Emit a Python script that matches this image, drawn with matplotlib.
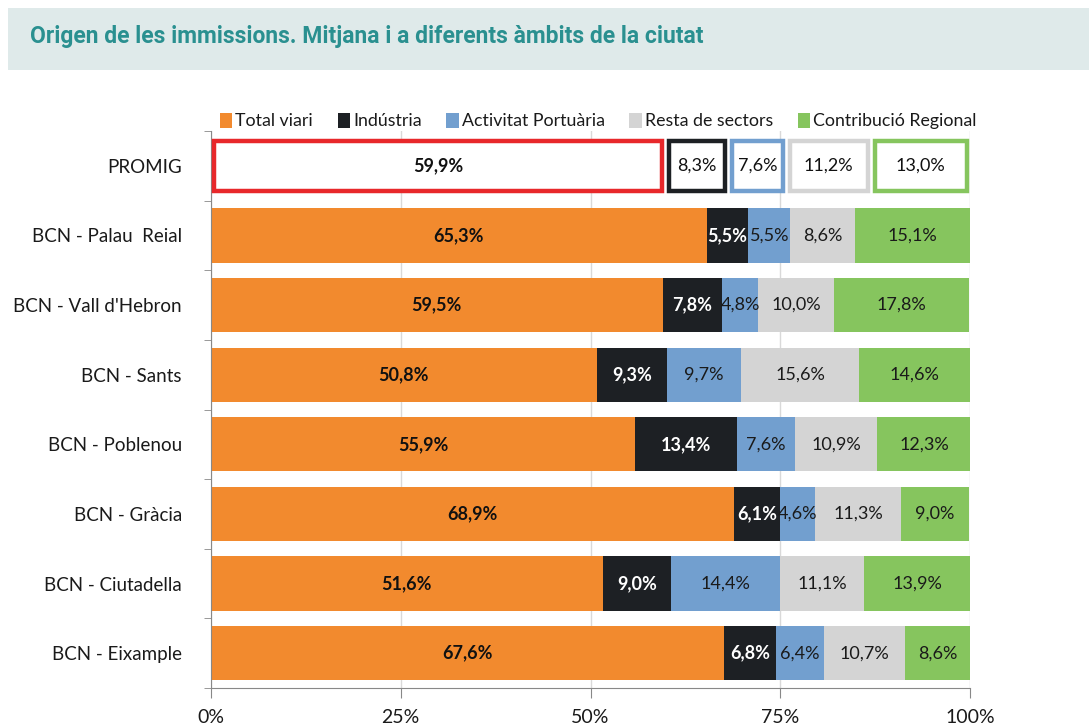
import matplotlib
matplotlib.use("Agg")
import matplotlib.pyplot as plt
import numpy as np
from matplotlib.patches import Rectangle

plt.rcParams['font.family'] = ['Lato', 'DejaVu Sans']

title = "Origen de les immissions. Mitjana i a diferents àmbits de la ciutat"
categories = ["PROMIG", "BCN - Palau  Reial", "BCN - Vall d'Hebron", "BCN - Sants",
              "BCN - Poblenou", "BCN - Gràcia", "BCN - Ciutadella", "BCN - Eixample"]
series = ["Total viari", "Indústria", "Activitat Portuària", "Resta de sectors", "Contribució Regional"]
total_viari = [59.9, 65.3, 59.5, 50.8, 55.9, 68.9, 51.6, 67.6]
industria = [8.3, 5.5, 7.8, 9.3, 13.4, 6.1, 9.0, 6.8]
portuaria = [7.6, 5.5, 4.8, 9.7, 7.6, 4.6, 14.4, 6.4]
resta = [11.2, 8.6, 10.0, 15.6, 10.9, 11.3, 11.1, 10.7]
regional = [13.0, 15.1, 17.8, 14.6, 12.3, 9.0, 13.9, 8.6]
xticks = [0, 25, 50, 75, 100]
xticklabels = ["0%", "25%", "50%", "75%", "100%"]

colors = ["#f28a2e", "#1d2024", "#729fcf", "#d4d4d4", "#86c55e"]
promig_edges = ["#e8282b", "#1d2024", "#729fcf", "#d4d4d4", "#86c55e"]
label_colors = ["#111111", "#ffffff", "#1a1a1a", "#1a1a1a", "#1a1a1a"]
label_weights = ["bold", "bold", "normal", "normal", "normal"]

data = np.array([total_viari, industria, portuaria, resta, regional])

fig = plt.figure(figsize=(10.89, 7.27), dpi=100)
# header band
fig.patches.append(Rectangle((8/1089, 1-70/727), 1-8/1089, 62/727, transform=fig.transFigure,
                             facecolor="#dfeaea", edgecolor="none", zorder=0))
fig.text(30/1089, 1-37/727, title, fontsize=16.5, fontweight="bold", color="#2a9090",
         va="center", ha="left", family=["Roboto", "DejaVu Sans"])

ax = fig.add_axes([211/1089, 1-688/727, 759/1089, 557/727])
y = np.arange(len(categories))
h = 0.78
left = np.zeros(len(categories))
for i, s in enumerate(series):
    vals = data[i]
    # regular rows
    ax.barh(y[1:], vals[1:], left=left[1:], height=h, color=colors[i], edgecolor="none",
            label=s, zorder=2)
    # PROMIG row: outlined boxes
    ax.barh(y[:1], vals[:1] - 0.9, left=left[:1] + 0.45, height=0.72, color="white",
            edgecolor=promig_edges[i], linewidth=3.2, zorder=3)
    for j in range(len(categories)):
        cx = left[j] + vals[j] / 2
        txt = f"{vals[j]:.1f}%".replace(".", ",")
        if j == 0:
            col = "#111111"
            fw = "bold" if i == 0 else "normal"
        else:
            col = label_colors[i]
            fw = label_weights[i]
        ax.text(cx, y[j], txt, ha="center", va="center", fontsize=13, color=col,
                fontweight=fw, zorder=4)
    left += vals

ax.set_xlim(0, 100)
ax.set_ylim(len(categories) - 0.5, -0.5)
ax.set_yticks(y)
ax.set_yticklabels(categories, fontsize=13.5, color="#1a1a1a")
ax.tick_params(axis="y", length=0, pad=21)
ax.set_yticks(np.arange(-0.5, len(categories), 1), minor=True)
ax.tick_params(axis="y", which="minor", length=5, color="#888888", direction="out")
ax.set_xticks(xticks)
ax.set_xticklabels(xticklabels, fontsize=14, color="#1a1a1a")
ax.tick_params(axis="x", length=7, color="#888888", pad=8)
ax.grid(axis="x", color="#d9d9d9", linewidth=1, zorder=0)
ax.set_axisbelow(True)
for sp in ["top", "right"]:
    ax.spines[sp].set_visible(False)
ax.spines["left"].set_color("#888888")
ax.spines["bottom"].set_color("#888888")

handles, labels = ax.get_legend_handles_labels()
leg = ax.legend(handles, labels, loc="lower center", bbox_to_anchor=(0.51, 0.99), ncol=5,
                frameon=False, fontsize=12.8, handlelength=0.7, handleheight=0.9,
                handletextpad=0.15, columnspacing=1.4, borderaxespad=0.0)
for t in leg.get_texts():
    t.set_color("#1a1a1a")

fig.savefig("out.png", dpi=100, facecolor="white")
